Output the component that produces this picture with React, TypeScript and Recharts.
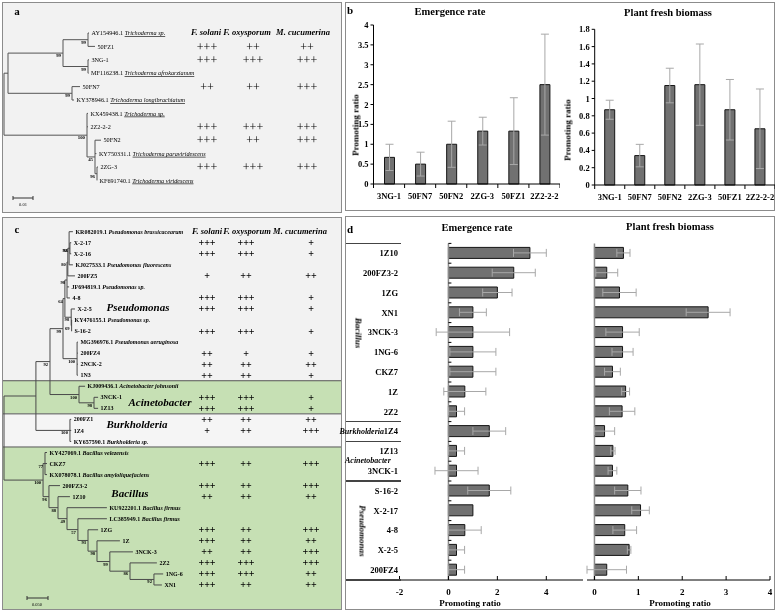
import React from "react";
import {
  BarChart,
  Bar,
  XAxis,
  YAxis,
  ErrorBar,
  ComposedChart,
  Scatter,
  ReferenceLine,
  ReferenceArea,
} from "recharts";

const FONT = "'Liberation Serif', 'Times New Roman', Times, serif";

// ---------- panel b : Trichoderma pot test ----------
const trichoStrains = ["3NG-1", "50FN7", "50FN2", "2ZG-3", "50FZ1", "2Z2-2-2"];
const trichoEmergence = [0.67, 0.5, 1.0, 1.33, 1.33, 2.5];
const trichoEmergenceSd = [0.33, 0.3, 0.58, 0.35, 0.84, 1.27];
const trichoBiomass = [0.87, 0.34, 1.15, 1.16, 0.87, 0.65];
const trichoBiomassSd = [0.11, 0.13, 0.2, 0.47, 0.35, 0.46];
const emergenceTicksB = [0, 0.5, 1, 1.5, 2, 2.5, 3, 3.5, 4];
const biomassTicksB = [0, 0.2, 0.4, 0.6, 0.8, 1, 1.2, 1.4, 1.6, 1.8];

// ---------- panel d : bacteria pot test ----------
const bactStrains = [
  "1Z10", "200FZ3-2", "1ZG", "XN1", "3NCK-3", "1NG-6", "CKZ7", "1Z", "2Z2",
  "1Z4", "1Z13", "3NCK-1", "S-16-2", "X-2-17", "4-8", "X-2-5", "200FZ4",
];
const bactEmergence = [3.33, 2.67, 2.0, 1.0, 1.0, 1.0, 1.0, 0.67, 0.33, 1.67, 0.33, 0.33, 1.67, 1.0, 0.67, 0.33, 0.33];
const bactEmergenceSd = [0.67, 0.88, 0.6, 0.55, 1.5, 0.94, 0.94, 0.86, 0.33, 0.67, 0.33, 0.88, 0.88, 0, 0.67, 0.33, 0.33];
const bactBiomass = [0.66, 0.28, 0.57, 2.59, 0.64, 0.64, 0.41, 0.71, 0.63, 0.23, 0.42, 0.41, 0.76, 1.05, 0.69, 0.79, 0.28];
const bactBiomassSd = [0.15, 0.25, 0.38, 0.5, 0.38, 0.24, 0.18, 0.09, 0.29, 0.23, 0.05, 0.1, 0.3, 0.2, 0.27, 0.04, 0.45];
const emergenceTicksD = [-2, 0, 2, 4];
const biomassTicksD = [0, 1, 2, 3, 4];
const bactGroups = ["Bacillus", "Burkholderia", "Acinetobacter", "Pseudomonas"];
const bactGroupSizes = [9, 1, 2, 5];

// ---------- panel a : Trichoderma tree ----------
// [id, parent, distance from root, bootstrap]
const trichoNodes: [string, string, number, string][] = [
  ["root", "", 0, ""],
  ["U", "root", 0.002, ""],
  ["U1", "U", 0.0295, "99"],
  ["U1a", "U1", 0.042, "99"],
  ["U1b", "U1", 0.042, "99"],
  ["U2", "U", 0.034, "99"],
  ["L", "root", 0.0415, "100"],
  ["L2", "L", 0.0455, "45"],
  ["L3", "L2", 0.0465, "96"],
];
// [label, species, parent, distance from root]
const trichoLeaves: [string, string, string, number][] = [
  ["AY154946.1", "Trichoderma sp.", "U1a", 0.0425],
  ["50FZ1", "", "U1a", 0.0455],
  ["3NG-1", "", "U1b", 0.0425],
  ["MF116238.1", "Trichoderma afrokarzianum", "U1b", 0.0423],
  ["50FN7", "", "U2", 0.038],
  ["KY378946.1", "Trichoderma longibrachiatum", "U2", 0.035],
  ["KX459438.1", "Trichoderma sp.", "L", 0.042],
  ["2Z2-2-2", "", "L", 0.042],
  ["50FN2", "", "L2", 0.0485],
  ["KY750331.1", "Trichoderma paraviridescens", "L2", 0.0462],
  ["2ZG-3", "", "L3", 0.047],
  ["KF691740.1", "Trichoderma viridescens", "L3", 0.0465],
];
const pathogens = ["F. solani", "F. oxysporum", "M. cucumerina"];
const trichoTestStrains = ["50FZ1", "3NG-1", "50FN7", "2Z2-2-2", "50FN2", "2ZG-3"];
const trichoFsolani = ["+++", "+++", "++", "+++", "+++", "+++"];
const trichoFoxysporum = ["++", "+++", "++", "+++", "++", "+++"];
const trichoMcucumerina = ["++", "+++", "+++", "+++", "+++", "+++"];

// ---------- panel c : bacteria tree ----------
const bactNodes: [string, string, number, string][] = [
  ["root", "", 0, ""],
  ["A", "root", 0.076, ""],
  ["PA", "A", 0.1095, "92"],
  ["P", "PA", 0.1405, "99"],
  ["P1", "P", 0.145, "64"],
  ["Pf", "P1", 0.15, "98"],
  ["Pf1", "Pf", 0.152, "80"],
  ["Pf2", "Pf1", 0.155, "92"],
  ["Pf3", "Pf2", 0.157, "96"],
  ["Pk", "P1", 0.16, "98"],
  ["Pk2", "Pk", 0.161, "69"],
  ["P2", "P", 0.174, "100"],
  ["Ac", "PA", 0.1786, "100"],
  ["Ac2", "Ac", 0.2143, "98"],
  ["Bu", "A", 0.157, "100"],
  ["B0", "root", 0.093, "100"],
  ["B1", "B0", 0.0976, "77"],
  ["N1", "B0", 0.107, "96"],
  ["N2", "N1", 0.1286, "88"],
  ["N3", "N2", 0.15, "49"],
  ["N4", "N3", 0.176, "57"],
  ["N5", "N4", 0.2, "93"],
  ["N6", "N5", 0.2214, "98"],
  ["N7", "N6", 0.252, "99"],
  ["N8", "N7", 0.3, "86"],
  ["N9", "N8", 0.357, "92"],
];
const bactLeaves: [string, string, string, number][] = [
  ["KR082019.1", "Pseudomonas brassicacearum", "Pf2", 0.164],
  ["X-2-17", "", "Pf3", 0.16],
  ["X-2-16", "", "Pf3", 0.16],
  ["KJ027533.1", "Pseudomonas fluorescens", "Pf2", 0.164],
  ["200FZ5", "", "Pf1", 0.169],
  ["JF694819.1", "Pseudomonas sp.", "Pf", 0.155],
  ["4-8", "", "Pf", 0.157],
  ["X-2-5", "", "Pk", 0.169],
  ["KY476155.1", "Pseudomonas sp.", "Pk2", 0.162],
  ["S-16-2", "", "Pk2", 0.162],
  ["MG396976.1", "Pseudomonas aeruginosa", "P2", 0.176],
  ["200FZ4", "", "P2", 0.176],
  ["2NCK-2", "", "P2", 0.176],
  ["1N3", "", "P2", 0.176],
  ["KJ009436.1", "Acinetobacter johnsonii", "Ac", 0.193],
  ["3NCK-1", "", "Ac2", 0.224],
  ["1Z13", "", "Ac2", 0.224],
  ["200FZ1", "", "Bu", 0.16],
  ["1Z4", "", "Bu", 0.16],
  ["KY657590.1", "Burkholderia sp.", "Bu", 0.16],
  ["KY427069.1", "Bacillus velezensis", "B1", 0.1024],
  ["CKZ7", "", "B1", 0.1024],
  ["KX078078.1", "Bacillus amyloliquefaciens", "B1", 0.1024],
  ["200FZ3-2", "", "N1", 0.1333],
  ["1Z10", "", "N2", 0.157],
  ["KU922201.1", "Bacillus firmus", "N3", 0.245],
  ["LC385949.1", "Bacillus firmus", "N4", 0.245],
  ["1ZG", "", "N5", 0.224],
  ["1Z", "", "N6", 0.276],
  ["3NCK-3", "", "N7", 0.307],
  ["2Z2", "", "N8", 0.364],
  ["1NG-6", "", "N9", 0.379],
  ["XN1", "", "N9", 0.376],
];
const bactTestStrains = [
  "X-2-17", "X-2-16", "200FZ5", "4-8", "X-2-5", "S-16-2", "200FZ4", "2NCK-2", "1N3",
  "3NCK-1", "1Z13", "200FZ1", "1Z4", "CKZ7", "200FZ3-2", "1Z10", "1ZG", "1Z", "3NCK-3",
  "2Z2", "1NG-6", "XN1",
];
const bactFsolani = ["+++", "+++", "+", "+++", "+++", "+++", "++", "++", "++", "+++", "+++", "++", "+", "+++", "+++", "++", "+++", "+++", "++", "+++", "+++", "+++"];
const bactFoxysporum = ["+++", "+++", "++", "+++", "+++", "+++", "+", "++", "++", "+++", "+++", "++", "++", "++", "++", "++", "++", "++", "++", "+++", "+++", "++"];
const bactMcucumerina = ["+", "+", "++", "+", "+", "+", "+", "++", "+", "+", "+", "++", "+++", "+++", "+++", "++", "+++", "++", "+++", "+++", "++", "++"];
const bactClades = ["Pseudomonas", "Acinetobacter", "Burkholderia", "Bacillus"];
const bactCladeSizes = [14, 3, 3, 13];

// ---------- helpers ----------
function layoutTree(nodes: any[], leaves: any[]) {
  const depth: any = {};
  const parent: any = {};
  const kids: any = {};
  const y: any = {};
  nodes.forEach(([id, p, d]) => {
    depth[id] = d;
    parent[id] = p;
    kids[id] = kids[id] || [];
    if (p) (kids[p] = kids[p] || []).push(id);
  });
  leaves.forEach(([, , p, d], i) => {
    const id = "leaf" + i;
    depth[id] = d;
    parent[id] = p;
    y[id] = i;
    (kids[p] = kids[p] || []).push(id);
  });
  const getY = (id: string): number => {
    if (y[id] !== undefined) return y[id];
    const ys = kids[id].map(getY);
    y[id] = (Math.min(...ys) + Math.max(...ys)) / 2;
    return y[id];
  };
  nodes.forEach((n) => getY(n[0]));
  const segs: any[] = [];
  Object.keys(depth).forEach((id) => {
    if (parent[id]) segs.push([{ x: depth[parent[id]], y: y[id] }, { x: depth[id], y: y[id] }]);
    if (kids[id] && kids[id].length) {
      const ys = kids[id].map((c: string) => y[c]);
      segs.push([{ x: depth[id], y: Math.min(...ys) }, { x: depth[id], y: Math.max(...ys) }]);
    }
  });
  const boots = nodes.filter((n) => n[3]).map((n) => ({ x: depth[n[0]], y: y[n[0]], text: n[3] }));
  const tips = leaves.map(([name, sp, , d], i) => ({ x: d, y: i, name, sp }));
  return { segs, boots, tips };
}

function tableRows(leaves: any[], strains: string[], cols: string[][], colPx: number[]) {
  const out: any[] = [];
  strains.forEach((s, i) => {
    const row = leaves.findIndex((l) => l[0] === s);
    cols.forEach((c, j) => out.push({ x: colPx[j], y: row, text: c[i] }));
  });
  return out;
}

function Txt({ x, y, size, weight = 700, italic = false, align = "center", rotate = 0, children }: any) {
  const tx = align === "center" ? "-50%" : align === "right" ? "-100%" : "0%";
  return (
    <div
      style={{
        position: "absolute",
        left: x,
        top: y,
        transform: `translate(${tx}, -50%)` + (rotate ? ` rotate(${rotate}deg)` : ""),
        fontFamily: FONT,
        fontSize: size,
        fontWeight: weight,
        fontStyle: italic ? "italic" : "normal",
        lineHeight: 1,
        whiteSpace: "nowrap",
        color: "#000",
        willChange: "transform",
      }}
    >
      {children}
    </div>
  );
}

function TreeChart(p: any) {
  const { nodes, leaves, width, height, ppu, rootPx, row0, rowH } = p;
  const t = layoutTree(nodes, leaves);
  const xDomain = [-rootPx / ppu, (width - rootPx) / ppu];
  const yDomain = [-row0 / rowH, (height - row0) / rowH];
  const sbX = (p.scaleBar.px - rootPx) / ppu;
  const sbY = (p.scaleBar.py - row0) / rowH;
  const tickH = 2 / rowH;
  return (
    <ComposedChart width={width} height={height} margin={{ top: 0, right: 0, bottom: 0, left: 0 }}>
      <XAxis xAxisId="t" type="number" dataKey="x" domain={xDomain} hide allowDataOverflow />
      <XAxis xAxisId="p" type="number" dataKey="x" domain={[0, width]} hide allowDataOverflow />
      <YAxis yAxisId="r" type="number" dataKey="y" domain={yDomain} reversed hide allowDataOverflow />
      {p.bands.map((b: any, i: number) => (
        <ReferenceArea key={"b" + i} xAxisId="t" yAxisId="r" y1={b.y1} y2={b.y2} fill={b.fill} fillOpacity={1} stroke="none" ifOverflow="extendDomain" />
      ))}
      {p.dividers.map((d: number, i: number) => (
        <ReferenceLine key={"d" + i} xAxisId="t" yAxisId="r" y={d} stroke="#555" strokeWidth={1} />
      ))}
      {t.segs.map((s: any, i: number) => (
        <ReferenceLine key={"s" + i} xAxisId="t" yAxisId="r" segment={s} stroke={p.lineColor} strokeWidth={1} ifOverflow="visible" />
      ))}
      <ReferenceLine xAxisId="t" yAxisId="r" segment={[{ x: sbX, y: sbY }, { x: sbX + p.scaleBar.len, y: sbY }]} stroke="#333" ifOverflow="visible" />
      <ReferenceLine xAxisId="t" yAxisId="r" segment={[{ x: sbX, y: sbY - tickH }, { x: sbX, y: sbY + tickH }]} stroke="#333" ifOverflow="visible" />
      <ReferenceLine xAxisId="t" yAxisId="r" segment={[{ x: sbX + p.scaleBar.len, y: sbY - tickH }, { x: sbX + p.scaleBar.len, y: sbY + tickH }]} stroke="#333" ifOverflow="visible" />
      <Scatter
        xAxisId="t"
        yAxisId="r"
        data={t.tips}
        isAnimationActive={false}
        shape={(s: any) => (
          <text x={s.cx + 2.5} y={s.cy} dy="0.35em" fontFamily={FONT} fontSize={p.leafSize} fontWeight={p.leafWeight} fill="#000">
            {s.payload.name + (s.payload.sp ? " " : "")}
            {s.payload.sp ? (
              <tspan fontStyle="italic" style={p.underline ? { textDecoration: "underline wavy #e04040" } : undefined}>
                {s.payload.sp}
              </tspan>
            ) : null}
          </text>
        )}
      />
      <Scatter
        xAxisId="t"
        yAxisId="r"
        data={t.boots}
        isAnimationActive={false}
        shape={(s: any) => (
          <text x={s.cx - 2} y={s.cy + 4} textAnchor="end" fontFamily={FONT} fontSize={p.bootSize} fontWeight={700} fill="#000">
            {s.payload.text}
          </text>
        )}
      />
      <Scatter
        xAxisId="p"
        yAxisId="r"
        data={p.table}
        isAnimationActive={false}
        shape={(s: any) => (
          <text x={s.cx} y={s.cy} dy="0.35em" textAnchor="middle" fontFamily={FONT} fontSize={p.tableSize} fontWeight={p.tableWeight} fill="#000">
            {s.payload.text}
          </text>
        )}
      />
    </ComposedChart>
  );
}

const tickFont = { fontFamily: FONT, fontSize: 8.5, fontWeight: 700, fill: "#000" };

function BandTickX(props: any) {
  const { x, y, payload, index, band, count } = props;
  const h = band / 2;
  return (
    <g>
      <line x1={x - h} x2={x - h} y1={y} y2={y + 4} stroke="#000" />
      {index === count - 1 && <line x1={x + h} x2={x + h} y1={y} y2={y + 4} stroke="#000" />}
      <text x={x} y={y + 15} textAnchor="middle" {...tickFont}>
        {payload.value}
      </text>
    </g>
  );
}

function UpTickX(props: any) {
  const { x, y, payload } = props;
  return (
    <g>
      <line x1={x} x2={x} y1={y} y2={y - 4} stroke="#000" />
      <text x={x} y={y + 15} textAnchor="middle" {...tickFont} fontSize={9}>
        {payload.value}
      </text>
    </g>
  );
}

function CatTickY(props: any) {
  const { x, y, payload, band, markX, showLabel } = props;
  return (
    <g>
      <line x1={markX} x2={markX + 3} y1={y - band / 2} y2={y - band / 2} stroke="#000" />
      {showLabel && (
        <text x={x - 1.5} y={y} dy="0.35em" textAnchor="end" {...tickFont}>
          {payload.value}
        </text>
      )}
    </g>
  );
}

const BAR_FILL = "#717171";
const BAR_STROKE = "#151515";
const ERR = "#a8a8a8";
const layer = { position: "absolute" as const, willChange: "transform" };

export default function App() {
  const trichoData = trichoStrains.map((s, i) => ({
    name: s,
    em: trichoEmergence[i],
    emSd: trichoEmergenceSd[i],
    bio: trichoBiomass[i],
    bioSd: trichoBiomassSd[i],
  }));
  const bactData = bactStrains.map((s, i) => ({
    name: s,
    em: bactEmergence[i],
    emSd: bactEmergenceSd[i],
    bio: bactBiomass[i],
    bioSd: bactBiomassSd[i],
  }));

  const tableA = tableRows(trichoLeaves, trichoTestStrains, [trichoFsolani, trichoFoxysporum, trichoMcucumerina], [205, 251, 305]);
  const tableC = tableRows(bactLeaves, bactTestStrains, [bactFsolani, bactFoxysporum, bactMcucumerina], [205, 244, 309]);

  const cladeFill = ["#f2f2f2", "#c6e0b4", "#f5f5f5", "#c6e0b4"];
  let acc = 0;
  const bandsC = bactCladeSizes.map((n, i) => {
    const b = { y1: i === 0 ? -2 : acc - 0.5, y2: i === bactCladeSizes.length - 1 ? 40 : acc + n - 0.5, fill: cladeFill[i] };
    acc += n;
    return b;
  });
  const dividersC: number[] = [];
  acc = 0;
  bactCladeSizes.slice(0, -1).forEach((n) => {
    acc += n;
    dividersC.push(acc - 0.5);
  });

  // panel d geometry
  const dTop = 243.4;
  const dBand = 19.8;
  const sepRows = [0];
  let r = 0;
  bactGroupSizes.forEach((n) => {
    r += n;
    sepRows.push(r);
  });
  let g0 = 0;
  const groupCenters = bactGroupSizes.map((n) => {
    const c = dTop + (g0 + n / 2) * dBand;
    g0 += n;
    return c;
  });

  const panelBorder = (l: number, t: number, w: number, h: number, bg?: string, key?: string) => (
    <div
      key={key}
      style={{
        position: "absolute",
        left: l,
        top: t,
        width: w,
        height: h,
        border: "1.5px solid #8c8c8c",
        boxSizing: "border-box",
        background: bg || "transparent",
      }}
    />
  );

  return (
    <div style={{ position: "absolute", left: 0, top: 0, width: 777, height: 612, background: "#fff", overflow: "hidden" }}>
      {/* panel a */}
      <div style={{ ...layer, left: 2, top: 2 }}>
        <TreeChart
          nodes={trichoNodes}
          leaves={trichoLeaves}
          width={340}
          height={211}
          ppu={2000}
          rootPx={2}
          row0={31}
          rowH={13.4}
          bands={[{ y1: -5, y2: 20, fill: "#f2f2f2" }]}
          dividers={[]}
          lineColor="#555"
          leafSize={6.2}
          leafWeight={400}
          underline
          bootSize={4.8}
          table={tableA}
          tableSize={12}
          tableWeight={400}
          scaleBar={{ px: 11, py: 196, len: 0.01 }}
        />
      </div>
      {panelBorder(2, 2, 340, 211, undefined, "pa")}
      <Txt x={17} y={11} size={11}>a</Txt>
      {pathogens.map((n, i) => (
        <Txt key={"ha" + i} x={[206, 247, 303][i]} y={32} size={8.5} italic>
          {n}
        </Txt>
      ))}
      <Txt x={23} y={205} size={4.5} weight={400}>0.01</Txt>

      {/* panel c */}
      <div style={{ ...layer, left: 2, top: 217 }}>
        <TreeChart
          nodes={bactNodes}
          leaves={bactLeaves}
          width={340}
          height={393}
          ppu={420}
          rootPx={2}
          row0={14.7}
          rowH={11.04}
          bands={bandsC}
          dividers={dividersC}
          lineColor="#4a4a4a"
          leafSize={6}
          leafWeight={700}
          bootSize={4.6}
          table={tableC}
          tableSize={10}
          tableWeight={700}
          scaleBar={{ px: 25, py: 381, len: 0.05 }}
        />
      </div>
      {panelBorder(2, 217, 340, 393, undefined, "pc")}
      <Txt x={17} y={229} size={11}>c</Txt>
      {pathogens.map((n, i) => (
        <Txt key={"hc" + i} x={[207, 247, 300][i]} y={231} size={8.5} italic>
          {n}
        </Txt>
      ))}
      <Txt x={138} y={307} size={11} italic>{bactClades[0]}</Txt>
      <Txt x={160} y={402} size={11} italic>{bactClades[1]}</Txt>
      <Txt x={137} y={424} size={11} italic>{bactClades[2]}</Txt>
      <Txt x={130} y={493} size={11} italic>{bactClades[3]}</Txt>
      <Txt x={37} y={605} size={4.5} weight={400}>0.050</Txt>

      {/* panel b */}
      {panelBorder(345, 2, 430, 209, "#fff", "pb")}
      <div style={{ ...layer, left: 345, top: 2 }}>
        <BarChart width={215} height={209} data={trichoData} margin={{ top: 23, right: 0, bottom: 0, left: 0 }} barSize={10}>
          <XAxis
            dataKey="name"
            height={27}
            interval={0}
            tickLine={false}
            tickSize={0}
            tickMargin={0}
            axisLine={{ stroke: "#000" }}
            tick={(t: any) => <BandTickX {...t} band={186.5 / 6} count={6} />}
          />
          <YAxis
            width={28.5}
            domain={[0, 4]}
            ticks={emergenceTicksB}
            interval={0}
            tickSize={3}
            tickMargin={2}
            tick={tickFont}
            tickLine={{ stroke: "#000" }}
            axisLine={{ stroke: "#000" }}
          />
          <Bar dataKey="em" fill={BAR_FILL} stroke={BAR_STROKE} strokeWidth={1} isAnimationActive={false}>
            <ErrorBar dataKey="emSd" width={4} stroke={ERR} strokeWidth={1} direction="y" isAnimationActive={false} />
          </Bar>
        </BarChart>
      </div>
      <div style={{ ...layer, left: 560, top: 2 }}>
        <BarChart width={215} height={209} data={trichoData} margin={{ top: 27.3, right: 0, bottom: 0, left: 0 }} barSize={10}>
          <XAxis
            dataKey="name"
            height={26}
            interval={0}
            tickLine={false}
            tickSize={0}
            tickMargin={0}
            axisLine={{ stroke: "#000" }}
            tick={(t: any) => <BandTickX {...t} band={180.3 / 6} count={6} />}
          />
          <YAxis
            width={34.7}
            domain={[0, 1.8]}
            ticks={biomassTicksB}
            interval={0}
            tickSize={3}
            tickMargin={2}
            tick={tickFont}
            tickLine={{ stroke: "#000" }}
            axisLine={{ stroke: "#000" }}
          />
          <Bar dataKey="bio" fill={BAR_FILL} stroke={BAR_STROKE} strokeWidth={1} isAnimationActive={false}>
            <ErrorBar dataKey="bioSd" width={4} stroke={ERR} strokeWidth={1} direction="y" isAnimationActive={false} />
          </Bar>
        </BarChart>
      </div>
      <Txt x={350} y={10} size={11}>b</Txt>
      <Txt x={450} y={12} size={10.5}>Emergence rate</Txt>
      <Txt x={668} y={13} size={10.5}>Plant fresh biomass</Txt>
      <Txt x={356} y={125} size={9} rotate={-90}>Promoting ratio</Txt>
      <Txt x={568} y={130} size={9} rotate={-90}>Promoting ratio</Txt>

      {/* panel d */}
      {panelBorder(345, 216, 430, 394, "#fff", "pd")}
      <div style={{ ...layer, left: 345, top: 216 }}>
        <BarChart layout="vertical" width={241} height={394} data={bactData} margin={{ top: 27.4, right: 3, bottom: 0, left: 0 }} barSize={11}>
          <XAxis
            type="number"
            domain={[-2, 5.5]}
            ticks={emergenceTicksD}
            interval={0}
            height={30}
            tickLine={false}
            tickSize={0}
            tickMargin={0}
            axisLine={{ stroke: "#000" }}
            allowDataOverflow
            tick={(t: any) => <UpTickX {...t} />}
          />
          <YAxis
            type="category"
            dataKey="name"
            width={54.5}
            interval={0}
            axisLine={false}
            tickLine={false}
            tickSize={0}
            tickMargin={0}
            tick={(t: any) => <CatTickY {...t} band={dBand} markX={103.4} showLabel />}
          />
          <ReferenceLine x={0} stroke="#8a8a8a" strokeWidth={1.5} />
          <Bar dataKey="em" fill={BAR_FILL} stroke={BAR_STROKE} strokeWidth={1} isAnimationActive={false}>
            <ErrorBar dataKey="emSd" width={4} stroke={ERR} strokeWidth={1} direction="x" isAnimationActive={false} />
          </Bar>
        </BarChart>
      </div>
      <div style={{ ...layer, left: 580, top: 216 }}>
        <BarChart layout="vertical" width={195} height={394} data={bactData} margin={{ top: 27.4, right: 5, bottom: 0, left: 7 }} barSize={11}>
          <XAxis
            type="number"
            domain={[0, 4]}
            ticks={biomassTicksD}
            interval={0}
            height={30}
            tickLine={false}
            tickSize={0}
            tickMargin={0}
            axisLine={{ stroke: "#000" }}
            tick={(t: any) => <UpTickX {...t} />}
          />
          <YAxis
            type="category"
            dataKey="name"
            width={0}
            interval={0}
            axisLine={false}
            tickLine={false}
            tickSize={0}
            tickMargin={0}
            tick={(t: any) => <CatTickY {...t} band={dBand} markX={7} showLabel={false} />}
          />
          <ReferenceLine x={0} stroke="#8a8a8a" strokeWidth={1.5} />
          <Bar dataKey="bio" fill={BAR_FILL} stroke={BAR_STROKE} strokeWidth={1} isAnimationActive={false}>
            <ErrorBar dataKey="bioSd" width={4} stroke={ERR} strokeWidth={1} direction="x" isAnimationActive={false} />
          </Bar>
        </BarChart>
      </div>
      <Txt x={350} y={229} size={11}>d</Txt>
      <Txt x={477} y={228} size={10.5}>Emergence rate</Txt>
      <Txt x={670} y={227} size={10.5}>Plant fresh biomass</Txt>
      <Txt x={470} y={603} size={9}>Promoting ratio</Txt>
      <Txt x={680} y={603} size={9}>Promoting ratio</Txt>
      {sepRows.map((k, i) => (
        <div key={"sep" + i} style={{ position: "absolute", left: 346, top: dTop + k * dBand - 0.75, width: 55, height: 1.5, background: "#444" }} />
      ))}
      <Txt x={358} y={groupCenters[0]} size={9} italic rotate={90}>{bactGroups[0]}</Txt>
      <Txt x={384} y={groupCenters[1]} size={8} italic align="right">{bactGroups[1]}</Txt>
      <Txt x={345} y={groupCenters[2]} size={8} italic align="left">{bactGroups[2]}</Txt>
      <Txt x={362} y={groupCenters[3]} size={9} italic rotate={90}>{bactGroups[3]}</Txt>
    </div>
  );
}
